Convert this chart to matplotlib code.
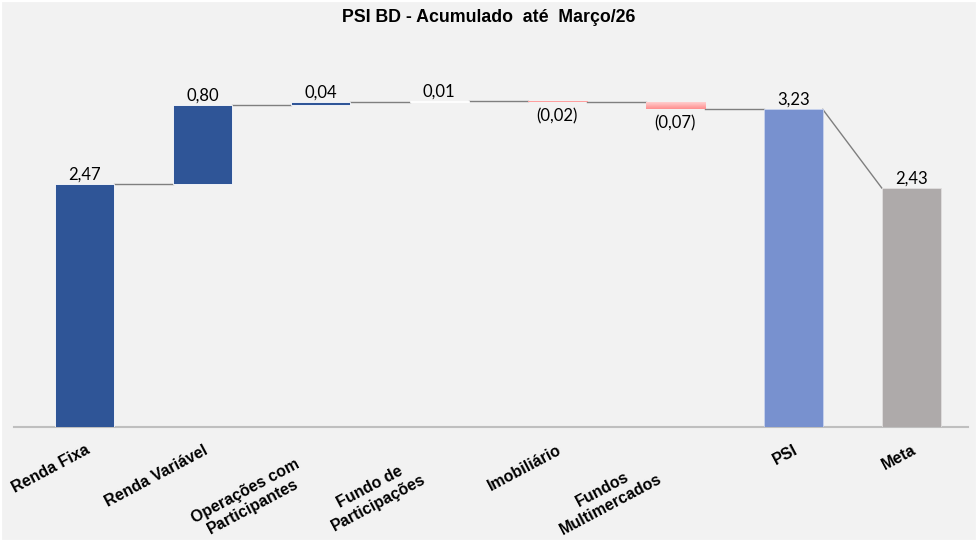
import numpy as np
import matplotlib
matplotlib.use("Agg")
from matplotlib import pyplot as plt
from matplotlib.patches import Rectangle
from matplotlib.transforms import ScaledTranslation

# waterfall data
categories = ["Renda Fixa", "Renda Variável", "Operações com\nParticipantes",
              "Fundo de\nParticipações", "Imobiliário", "Fundos\nMultimercados",
              "PSI", "Meta"]
steps = [2.47, 0.80, 0.04, 0.01, -0.02, -0.07]
psi_total = 3.23
meta = 2.43
labels = ["2,47", "0,80", "0,04", "0,01", "(0,02)", "(0,07)", "3,23", "2,43"]

bg = "#F2F2F2"
dark_blue = "#2F5597"
colors = [dark_blue, dark_blue, dark_blue, "#FFFFFF", None, None, "#7891CF", "#AEAAAA"]

fig = plt.figure(figsize=(9.78, 5.42), dpi=100, facecolor=bg)
ax = fig.add_axes([14 / 978, 115 / 542, 954 / 978, 354 / 542])
ax.set_facecolor(bg)

# bottoms / heights
cum = np.concatenate([[0], np.cumsum(steps)])
bottoms = []
heights = []
for i, s in enumerate(steps):
    lo = min(cum[i], cum[i + 1])
    bottoms.append(lo)
    heights.append(abs(s))
bottoms += [0, 0]
heights += [psi_total, meta]

pink = matplotlib.colors.LinearSegmentedColormap.from_list("pk", ["#FF8E8E", "#FFCFCF"])

x = np.arange(len(categories))
w = 0.5
for i in range(len(categories)):
    if colors[i] is None:
        bar = ax.bar(x[i], heights[i], w, bottom=bottoms[i], color="#FFA0A0",
                     edgecolor="none", zorder=2)[0]
        grad = np.linspace(0, 1, 50).reshape(-1, 1)
        im = ax.imshow(grad, cmap=pink, aspect="auto",
                       extent=[x[i] - w / 2, x[i] + w / 2, bottoms[i] + heights[i], bottoms[i]],
                       origin="upper", zorder=3)
        im.set_clip_path(bar)
    else:
        edge = "#FFFFFF" if i < 4 else ("#C9D3EE" if i == 6 else "#E0DEDE")
        ax.bar(x[i], heights[i], w, bottom=bottoms[i], color=colors[i],
               edgecolor=edge, linewidth=0.6, zorder=3)
ax.set_xlim(-0.6, 7.48)
ax.set_ylim(0, 3.6)

# connectors
for i in range(len(steps)):
    level = cum[i + 1]
    ax.plot([x[i] + w / 2, x[i + 1] - w / 2], [level, level], color="#7F7F7F", lw=1, zorder=1)
ax.plot([x[6] + w / 2, x[7] - w / 2], [psi_total, meta], color="#7F7F7F", lw=1, zorder=1)

# value labels
for i in range(len(categories)):
    if i < len(steps) and steps[i] < 0:
        ax.annotate(labels[i], (x[i], bottoms[i]), xytext=(0, -4), textcoords="offset points",
                    ha="center", va="top", fontsize=12, family="Lato", color="#000000")
    else:
        ax.annotate(labels[i], (x[i], bottoms[i] + heights[i]), xytext=(0, 1),
                    textcoords="offset points", ha="center", va="bottom",
                    fontsize=12, family="Lato", color="#000000")

rot = 28
ax.set_yticks([])
ax.set_xticks(x)
ax.set_xticklabels(categories, rotation=rot, ha="right", va="top", rotation_mode="anchor",
                   fontsize=11.5, fontweight="bold", family="Liberation Sans",
                   multialignment="center")
ax.tick_params(axis="x", length=0, pad=11)
# wrapped labels sit back along the text direction (wider wrap box)
back = 30 / 100
for lab in ax.get_xticklabels():
    if "\n" in lab.get_text():
        lab.set_transform(lab.get_transform() + ScaledTranslation(
            -back * np.cos(np.radians(rot)), -back * np.sin(np.radians(rot)), fig.dpi_scale_trans))

for sp in ["top", "left", "right"]:
    ax.spines[sp].set_visible(False)
ax.spines["bottom"].set_color("#BFBFBF")
ax.spines["bottom"].set_linewidth(1.5)

fig.text(0.5, 1 - 18 / 542, "PSI BD - Acumulado  até  Março/26", ha="center", va="center",
         fontsize=12.8, fontweight="bold", family="Liberation Sans")

fig.patches.append(Rectangle((0, 0), 1, 1, transform=fig.transFigure, fill=False,
                             edgecolor="white", linewidth=3))

fig.savefig("out.png", dpi=100, facecolor=bg)
